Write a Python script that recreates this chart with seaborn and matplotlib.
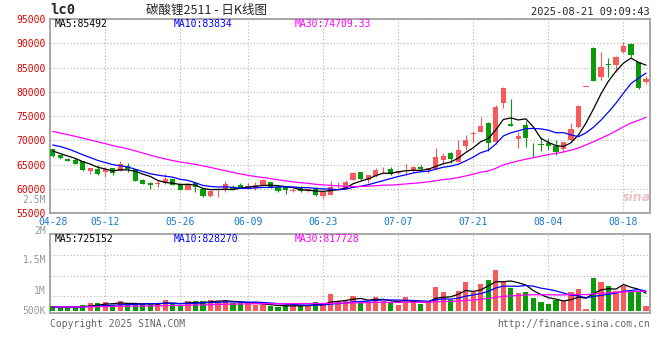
import numpy as np
import pandas as pd
import matplotlib
matplotlib.use("Agg")
import matplotlib.pyplot as plt
import seaborn as sns

# ---- data for 碳酸锂2511 ----
dates = (
    ["04-28", "04-29", "04-30"]
    + ["05-" + d for d in ["06", "07", "08", "09", "12", "13", "14", "15", "16", "19",
                           "20", "21", "22", "23", "26", "27", "28", "29", "30"]]
    + ["06-" + d for d in ["03", "04", "05", "06", "09", "10", "11", "12", "13", "16",
                           "17", "18", "19", "20", "23", "24", "25", "26", "27", "30"]]
    + ["07-" + d for d in ["01", "02", "03", "04", "07", "08", "09", "10", "11", "14",
                           "15", "16", "17", "18", "21", "22", "23", "24", "25", "28",
                           "29", "30", "31"]]
    + ["08-" + d for d in ["01", "04", "05", "06", "07", "08", "11", "12", "13", "14",
                           "15", "18", "19", "20", "21"]]
)

open_ = [68170, 67000, 66170, 65970, 65690, 63770, 64180, 63570, 64250, 63770,
         64800, 64050, 61850, 61300, 61050, 61160, 61990, 61100, 59850, 61160,
         60000, 58630, 59850, 60000, 60480, 60890, 60200, 60200, 60890, 61370,
         60340, 60480, 59680, 60140, 59520, 60000, 58560, 58830, 60600, 60200,
         61850, 63500, 61850, 62670, 64050, 64120, 63220, 63850, 63770, 64460,
         63910, 64050, 65970, 67480, 65630, 68920, 71400, 71800, 73660, 69740,
         77640, 73450, 70220, 73180, 68700, 69120, 69400, 68920, 68170, 70020,
         72830, 81000, 89100, 83130, 85800, 85530, 88270, 89850, 86080, 82100]
high = [68300, 67100, 66300, 66310, 65800, 64400, 64940, 64600, 64300, 65760,
        65420, 64100, 61990, 61400, 61780, 63090, 62100, 61200, 61200, 61250,
        60100, 59700, 60140, 61650, 60750, 61230, 61160, 61370, 62000, 61450,
        60820, 60550, 60140, 60620, 60000, 60480, 59500, 61650, 61510, 61850,
        63400, 63600, 62950, 64320, 64460, 64460, 63800, 65150, 64800, 64940,
        64350, 68370, 67480, 67600, 70090, 71120, 72010, 74750, 73800, 77290,
        81000, 78530, 71800, 74000, 69400, 70770, 70430, 70090, 69700, 73520,
        77200, 81000, 89200, 88270, 86900, 87300, 90200, 90000, 86200, 83200]
low = [66650, 66100, 65700, 65080, 63770, 63020, 62810, 62540, 62810, 63700,
       63570, 61600, 60960, 60070, 60480, 61100, 60800, 59700, 59700, 59450,
       58280, 58400, 58420, 59310, 59900, 60150, 60100, 59720, 60800, 60250,
       59380, 58900, 59380, 59380, 59400, 58560, 58150, 58700, 60140, 60100,
       61800, 61900, 61160, 62500, 63220, 62950, 63100, 62880, 63600, 63900,
       63220, 63900, 65150, 65420, 65500, 68030, 69610, 71700, 67820, 69260,
       76740, 72900, 68370, 68580, 66660, 67890, 68030, 67000, 67690, 69900,
       72490, 81000, 82200, 82440, 82990, 84160, 88100, 87240, 80600, 81620]
close = [66860, 66310, 65830, 65210, 63980, 64320, 63020, 64050, 63220, 65210,
         64120, 61710, 61100, 60750, 61150, 62060, 60890, 59790, 60950, 60340,
         58630, 59650, 59950, 61100, 60000, 60270, 60620, 60820, 61920, 60340,
         59650, 59790, 59770, 59650, 59930, 58830, 59450, 60480, 60700, 61440,
         63360, 62060, 62880, 63910, 64150, 63090, 63700, 63910, 64460, 64050,
         64250, 66520, 66790, 66180, 68030, 70090, 71450, 72970, 69400, 76950,
         80790, 73040, 70910, 70570, 68580, 69060, 68850, 67690, 69610, 72350,
         77090, 81000, 82300, 85200, 85460, 87240, 89400, 87500, 80700, 82700]
volume = [210000, 140000, 140000, 140000, 238000, 322000, 322000, 364000, 210000, 406000,
          224000, 308000, 280000, 266000, 308000, 448000, 280000, 182000, 406000, 406000,
          406000, 448000, 350000, 448000, 308000, 308000, 308000, 238000, 238000, 182000,
          140000, 224000, 224000, 252000, 224000, 364000, 252000, 700000, 420000, 406000,
          630000, 406000, 350000, 574000, 406000, 350000, 238000, 574000, 350000, 280000,
          406000, 994000, 784000, 448000, 826000, 1204000, 770000, 1120000, 1288000, 1708000,
          1190000, 938000, 742000, 798000, 546000, 364000, 280000, 448000, 406000, 798000,
          910000, 70000, 1386000, 1204000, 1036000, 840000, 1036000, 798000, 798000, 210000]

# closes / volumes before 04-28, inferred from where the MA lines start
prior_close = [76000, 75800, 75500, 75600, 75200, 75000, 74800, 75100, 74900, 74600,
               74400, 74200, 74000, 73800, 73300, 70500, 69000, 68000, 67500, 67600,
               69500, 70500, 71000, 70500, 70000, 69000, 68300, 67700, 67300]
prior_volume = [160000, 170000, 150000, 180000, 160000, 150000, 170000, 160000, 180000, 150000,
                160000, 170000, 150000, 160000, 180000, 170000, 150000, 160000, 170000, 150000,
                160000, 140000, 150000, 160000, 140000, 150000, 130000, 140000, 150000]

tick_dates = ["04-28", "05-12", "05-26", "06-09", "06-23", "07-07", "07-21", "08-04", "08-18"]
price_ticks = [55000, 60000, 65000, 70000, 75000, 80000, 85000, 90000, 95000]
vol_labels = ["2.5M", "2M", "1.5M", "1M", "500K"]
price_ma_labels = ["MA5:85492", "MA10:83834", "MA30:74709.33"]
vol_ma_labels = ["MA5:725152", "MA10:828270", "MA30:817728"]
title = "碳酸锂2511 - 日K线图"
code = "lc0"
stamp = "2025-08-21 09:09:43"

# ---- styling ----
RED = "#f65a5a"
GREEN = "#0a9a0a"
GRID = "#b4b4b4"
FRAME = "#a0a0a0"
MONO = "DejaVu Sans Mono"
MA_COLORS = ["black", "#0000ff", "#ff00ff"]

sns.set_style("white")
plt.rcParams["font.family"] = [MONO, "Noto Sans CJK SC"]

df = pd.DataFrame({"date": dates, "open": open_, "high": high, "low": low,
                   "close": close, "volume": volume})
df["x"] = np.arange(len(df))
df["dir"] = np.where(df["close"] >= df["open"], "up", "down")
colors = np.where(df["dir"] == "up", RED, GREEN)

n_prior = len(prior_close)
all_close = pd.Series(prior_close + close, dtype=float)
all_vol = pd.Series(prior_volume + volume, dtype=float)
price_ma = [all_close.rolling(n).mean().iloc[n_prior:].values for n in (5, 10, 30)]
vol_ma = [all_vol.rolling(n).mean().iloc[n_prior:].values for n in (5, 10, 30)]

W, H = 660, 360
fig = plt.figure(figsize=(W / 100, H / 100), dpi=100)


def px_axes(l, t, r, b):
    return fig.add_axes([l / W, 1 - b / H, (r - l) / W, (b - t) / H])


def ptext(px, py, s, **kw):
    kw.setdefault("family", MONO)
    kw.setdefault("fontsize", 7)
    kw.setdefault("va", "center")
    fig.text(px / W, 1 - py / H, s, **kw)


ax = px_axes(50, 19, 650, 213.3)
axv = px_axes(50, 234, 650, 313)
xlim = (-0.36, 79.53)
tick_idx = [dates.index(d) for d in tick_dates]

# ---- price panel ----
ax.vlines(df["x"], df["low"], df["high"], colors=colors, lw=0.8, zorder=3)
body = (df["close"] - df["open"]).abs().clip(lower=120)
ax.bar(df["x"], body, bottom=df[["open", "close"]].min(axis=1), width=0.7,
       color=colors, linewidth=0, zorder=3)
for vals, c in zip(price_ma, MA_COLORS):
    sns.lineplot(x=df["x"], y=vals, color=c, lw=0.9, ax=ax, zorder=4)

ax.set_xlim(*xlim)
ax.set_ylim(55000, 95000)
ax.set_yticks(price_ticks)
ax.set_yticklabels([str(v) for v in price_ticks], color="#e00000", fontsize=7, family=MONO)
ax.set_xticks(tick_idx)
ax.set_xticklabels(tick_dates, color="#1479d0", fontsize=7, family=MONO)
ax.tick_params(length=0, pad=3)
ax.tick_params(axis="x", pad=2.5)
ax.set_xlabel("")
ax.set_ylabel("")
ax.grid(axis="y", color=GRID, lw=0.8, ls=(0, (1, 2)))
for i in tick_idx[1:]:
    ax.axvline(i, color=GRID, lw=0.8, ls=(0, (1, 2)), zorder=1)

# ---- volume panel ----
sns.barplot(data=df, x="x", y="volume", hue="dir", palette={"up": RED, "down": GREEN},
            native_scale=True, dodge=False, width=0.7, saturation=1, legend=False,
            linewidth=0, ax=axv, zorder=3)
for vals, c in zip(vol_ma, MA_COLORS):
    sns.lineplot(x=df["x"], y=vals, color=c, lw=0.9, ax=axv, zorder=4)
axv.set_xlim(*xlim)
axv.set_ylim(-97000, 3220000)
axv.set_xticks([])
axv.set_yticks([])
axv.set_xlabel("")
axv.set_ylabel("")
for f in (0.215, 0.472, 0.730):
    axv.plot([0, 1], [f, f], transform=axv.transAxes, color=GRID, lw=0.8, ls=(0, (1, 2)), zorder=1)
for i in tick_idx[1:]:
    axv.axvline(i, color=GRID, lw=0.8, ls=(0, (1, 2)), zorder=1)

for a in (ax, axv):
    for s in a.spines.values():
        s.set_visible(True)
        s.set_color(FRAME)
        s.set_linewidth(1.3)

# ---- texts ----
ptext(50, 10, code, fontsize=10, weight="bold")
ptext(207, 10, title, ha="center", fontsize=9, family=["Noto Sans CJK SC", "DejaVu Sans"])
ptext(650, 12, stamp, ha="right", fontsize=7.5)
for px, s, c in zip((55, 174, 295), price_ma_labels, MA_COLORS):
    ptext(px, 24, s, color=c)
for px, s, c in zip((55, 174, 295), vol_ma_labels, MA_COLORS):
    ptext(px, 239, s, color=c)
for py, s in zip((200, 231, 260, 291, 311), vol_labels):
    ptext(46, py, s, ha="right", color="#999999")
ptext(50, 324, "Copyright 2025 SINA.COM", color="#666666")
ptext(650, 324, "http://finance.sina.com.cn", ha="right", color="#666666")
ptext(636, 197, "sina", ha="center", fontsize=9, style="italic", weight="bold",
      color="#e8c4c4", family="DejaVu Sans")

fig.savefig("out.png", dpi=100)
